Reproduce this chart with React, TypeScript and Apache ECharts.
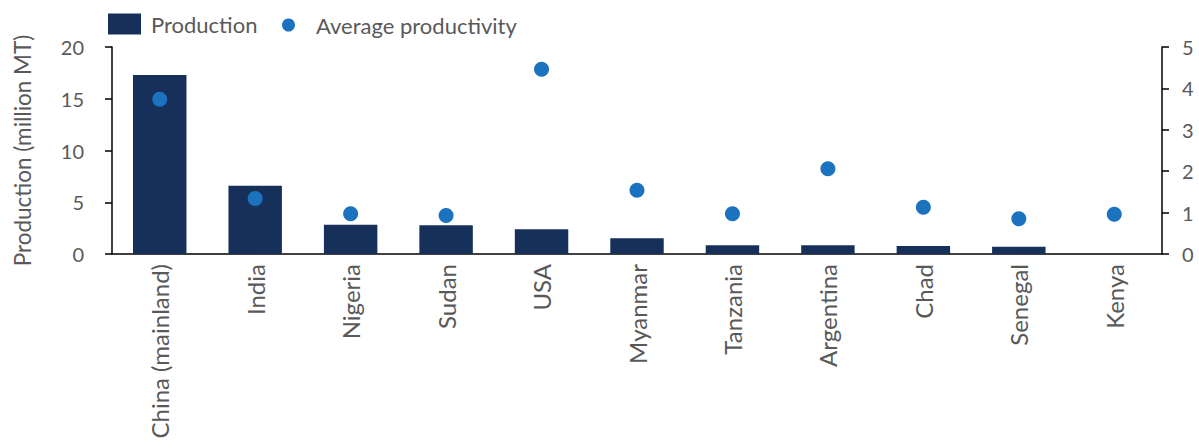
import React, { useEffect, useRef } from "react";
import * as echarts from "echarts";

// Countries along the category axis
const countries = [
  "China (mainland)",
  "India",
  "Nigeria",
  "Sudan",
  "USA",
  "Myanmar",
  "Tanzania",
  "Argentina",
  "Chad",
  "Senegal",
  "Kenya",
];

// Production, million MT (left axis)
const production: (number | null)[] = [17.3, 6.6, 2.83, 2.77, 2.39, 1.52, 0.84, 0.84, 0.77, 0.7, null];

// Average productivity (right axis)
const productivity = [3.74, 1.34, 0.97, 0.93, 4.46, 1.54, 0.97, 2.06, 1.13, 0.85, 0.96];

// Axis ticks
const leftTicks = { min: 0, max: 20, interval: 5 };
const rightTicks = { min: 0, max: 5, interval: 1 };

const FONT = "Lato, 'Open Sans', sans-serif";
const LABEL = "#595959";
const BAR = "#16305A";
const DOT = "#1B72BE";

export default function App() {
  const ref = useRef<HTMLDivElement>(null);

  useEffect(() => {
    document.body.style.margin = "0";
    if (!ref.current) return;
    const chart = echarts.init(ref.current, null, { renderer: "svg" });

    const axisLine = { show: true, lineStyle: { color: "#000", width: 1.5 } };

    chart.setOption({
      animation: false,
      backgroundColor: "#fff",
      textStyle: { fontFamily: FONT },
      legend: [
        {
          left: 108,
          top: 13,
          padding: 0,
          itemWidth: 33,
          itemHeight: 21,
          icon: "rect",
          data: ["Production"],
          textStyle: { fontFamily: FONT, fontSize: 22, color: LABEL, padding: [0, 0, 0, 5] },
        },
        {
          left: 282,
          top: 14,
          padding: 0,
          itemWidth: 13,
          itemHeight: 13,
          icon: "circle",
          data: ["Average productivity"],
          textStyle: { fontFamily: FONT, fontSize: 22, color: LABEL, padding: [0, 0, 0, 16] },
        },
      ],
      grid: { left: 112, right: 37, top: 47, bottom: 194, containLabel: false },
      xAxis: {
        type: "category",
        data: countries,
        boundaryGap: true,
        axisLine,
        axisTick: { show: false },
        axisLabel: {
          rotate: 90,
          interval: 0,
          margin: 10,
          color: LABEL,
          fontFamily: FONT,
          fontSize: 24,
        },
      },
      yAxis: [
        {
          type: "value",
          ...leftTicks,
          position: "left",
          name: "Production (million MT)",
          nameLocation: "middle",
          nameGap: 78,
          nameTextStyle: { color: LABEL, fontFamily: FONT, fontSize: 22.5 },
          axisLine,
          axisTick: { show: true, length: 7, lineStyle: { color: "#000", width: 1.5 } },
          axisLabel: { color: LABEL, fontFamily: FONT, fontSize: 20, margin: 28 },
          splitLine: { show: false },
        },
        {
          type: "value",
          ...rightTicks,
          position: "right",
          axisLine,
          axisTick: { show: true, length: 7, lineStyle: { color: "#000", width: 1.5 } },
          axisLabel: { color: LABEL, fontFamily: FONT, fontSize: 20, margin: 20 },
          splitLine: { show: false },
        },
      ],
      series: [
        {
          name: "Production",
          type: "bar",
          yAxisIndex: 0,
          data: production,
          barWidth: "56%",
          itemStyle: { color: BAR },
        },
        {
          name: "Average productivity",
          type: "scatter",
          yAxisIndex: 1,
          data: productivity,
          symbol: "circle",
          symbolSize: 15,
          itemStyle: { color: DOT, opacity: 1 },
          z: 3,
        },
      ],
    });

    return () => chart.dispose();
  }, []);

  return <div ref={ref} style={{ width: 1199, height: 448 }} />;
}
